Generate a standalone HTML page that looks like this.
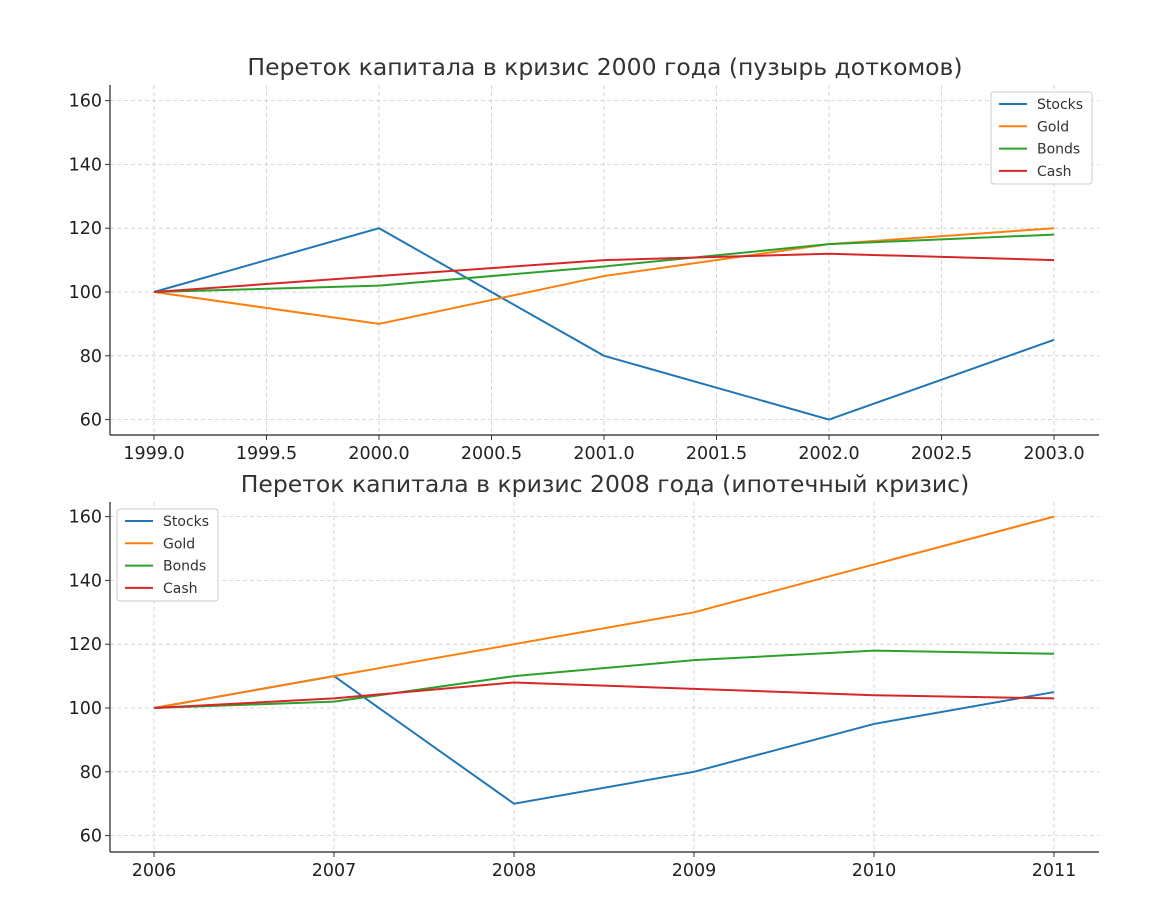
<!DOCTYPE html>
<html><head><meta charset="utf-8">
<style>body{margin:0;background:#fff}svg{display:block;font-family:"DejaVu Sans","Liberation Sans",sans-serif}</style>
</head><body>
<svg id="c" width="1170" height="915"></svg>
<script>
const years1 = [1999, 2000, 2001, 2002, 2003];
const stocks1 = [100, 120, 80, 60, 85];
const gold1 = [100, 90, 105, 115, 120];
const bonds1 = [100, 102, 108, 115, 118];
const cash1 = [100, 105, 110, 112, 110];
const xticks1 = [1999.0, 1999.5, 2000.0, 2000.5, 2001.0, 2001.5, 2002.0, 2002.5, 2003.0];
const years2 = [2006, 2007, 2008, 2009, 2010, 2011];
const stocks2 = [100, 110, 70, 80, 95, 105];
const gold2 = [100, 110, 120, 130, 145, 160];
const bonds2 = [100, 102, 110, 115, 118, 117];
const cash2 = [100, 103, 108, 106, 104, 103];
const xticks2 = [2006, 2007, 2008, 2009, 2010, 2011];
const yticks = [60, 80, 100, 120, 140, 160];
const seriesNames = ["Stocks", "Gold", "Bonds", "Cash"];
const colors = ["#1f77b4", "#ff7f0e", "#2ca02c", "#d62728"];

const svg = document.getElementById('c');
const NS = 'http://www.w3.org/2000/svg';
function mk(tag, attrs, parent) {
  const e = document.createElementNS(NS, tag);
  for (const k in attrs) e.setAttribute(k, attrs[k]);
  (parent || svg).appendChild(e);
  return e;
}
function panel(cfg) {
  const g = mk('g', {});
  
  
  const L = 110, R = 1099, T = cfg.top, B = cfg.top + 350;
  const xs = v => cfg.x0px + (v - cfg.x0) * cfg.pxPer;
  const ys = v => cfg.y100 - (v - 100) * 3.19;
  cfg.xticks.forEach(t => {
    const gl = mk('line', {x1: xs(t), x2: xs(t), y1: T, y2: B, stroke: '#ccc', 'stroke-dasharray': '4,3', 'stroke-width': 0.8}, g);
    
    
    mk('line', {x1: xs(t), x2: xs(t), y1: B, y2: B + 5, stroke: '#333'}, g);
    const tx = mk('text', {x: xs(t), y: B + 24, 'text-anchor': 'middle', 'font-size': 17.5, fill: '#222'}, g);
    tx.textContent = cfg.fmt(t);
    
    
  });
  yticks.forEach(t => {
    const gl = mk('line', {x1: L, x2: R, y1: ys(t), y2: ys(t), stroke: '#ccc', 'stroke-dasharray': '4,3', 'stroke-width': 0.8}, g);
    
    
    mk('line', {x1: L - 5, x2: L, y1: ys(t), y2: ys(t), stroke: '#333'}, g);
    const tx = mk('text', {x: L - 8, y: ys(t) + 6, 'text-anchor': 'end', 'font-size': 17.5, fill: '#222'}, g);
    tx.textContent = t;
    
    
  });
  mk('line', {x1: L, x2: L, y1: T, y2: B, stroke: '#222', 'stroke-width': 1.2}, g);
  mk('line', {x1: L, x2: R, y1: B, y2: B, stroke: '#222', 'stroke-width': 1.2}, g);
  cfg.data.forEach((d, i) => {
    const p = mk('polyline', {points: cfg.years.map((y, j) => xs(y) + ',' + ys(d[j])).join(' '), fill: 'none', stroke: colors[i], 'stroke-width': 2}, g);
    
    
  });
  const tt = mk('text', {x: 605, y: T - 10, 'text-anchor': 'middle', 'font-size': 23.5, fill: '#333'}, g);
  tt.textContent = cfg.title;
  
  
  const lg = mk('g', {}, g);
  
  
  mk('rect', {x: cfg.lx, y: cfg.ly, width: 101, height: 92, rx: 3, fill: '#fff', 'fill-opacity': 0.85, stroke: '#ccc'}, lg);
  seriesNames.forEach((n, i) => {
    const yy = cfg.ly + 12 + i * 22.3;
    mk('line', {x1: cfg.lx + 8, x2: cfg.lx + 36, y1: yy, y2: yy, stroke: colors[i], 'stroke-width': 2}, lg);
    const t = mk('text', {x: cfg.lx + 46, y: yy + 5, 'font-size': 14, fill: '#333'}, lg);
    t.textContent = n;
    
    
  });
}
panel({name: 'chart-2000', top: 85, x0: 1999, x0px: 154, pxPer: 225, y100: 292, xticks: xticks1, years: years1,
  fmt: t => t.toFixed(1), data: [stocks1, gold1, bonds1, cash1],
  title: 'Переток капитала в кризис 2000 года (пузырь доткомов)', lx: 991, ly: 92});
panel({name: 'chart-2008', top: 502, x0: 2006, x0px: 154, pxPer: 180, y100: 708, xticks: xticks2, years: years2,
  fmt: t => String(t), data: [stocks2, gold2, bonds2, cash2],
  title: 'Переток капитала в кризис 2008 года (ипотечный кризис)', lx: 117, ly: 509});
</script>
</body></html>
